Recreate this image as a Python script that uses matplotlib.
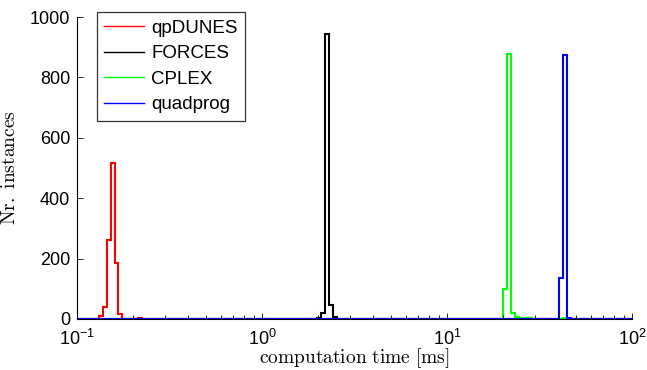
"""Histogram of QP solver computation times (MATLAB-style stairs on log x axis)."""
import matplotlib
matplotlib.use("Agg")
import matplotlib.pyplot as plt
import numpy as np
from matplotlib.ticker import LogLocator, NullFormatter

plt.rcParams["font.family"] = ["Liberation Sans", "DejaVu Sans"]
plt.rcParams["mathtext.fontset"] = "custom"
plt.rcParams["mathtext.rm"] = "Liberation Sans"
plt.rcParams["mathtext.it"] = "Liberation Sans:italic"

# log-spaced histogram bins over [0.1, 100] ms
N_BINS = 140
LOG_LO, LOG_HI = -0.99, 2.01

# counts per solver: first bin index and consecutive bin counts
qpdunes_start = 5
qpdunes_counts = [10, 40, 262, 515, 186, 15, 0, 0, 0, 0, 4]
forces_start = 60
forces_counts = [3, 20, 943, 47, 5]
cplex_start = 107
cplex_counts = [100, 877, 20, 8, 3, 3, 3, 0, 0, 0, 0, 0, 0, 0, 0, 2, 1]
quadprog_start = 121
quadprog_counts = [135, 873, 3]

series = [
    ("qpDUNES", "#ff0000", qpdunes_start, qpdunes_counts),
    ("FORCES", "#000000", forces_start, forces_counts),
    ("CPLEX", "#00ff00", cplex_start, cplex_counts),
    ("quadprog", "#0000ff", quadprog_start, quadprog_counts),
]

edges = np.logspace(LOG_LO, LOG_HI, N_BINS + 1)
edges = np.concatenate([[0.1], edges])

fig = plt.figure(figsize=(6.47, 3.70), dpi=100)
ax = fig.add_axes([0.119, 0.138, 0.858, 0.816])

for name, color, start, counts in series:
    full = np.zeros(len(edges) - 1)
    full[start + 1:start + 1 + len(counts)] = counts
    ax.stairs(full, edges, color=color, linewidth=1.5, label=name, baseline=None)

ax.set_xscale("log")
ax.set_xlim(0.1, 100)
ax.set_ylim(0, 1000)
ax.set_yticks([0, 200, 400, 600, 800, 1000])
ax.xaxis.set_major_locator(LogLocator(base=10, numticks=10))
ax.xaxis.set_minor_locator(LogLocator(base=10, subs=np.arange(2, 10), numticks=10))
ax.xaxis.set_minor_formatter(NullFormatter())

for s in ("top", "right"):
    ax.spines[s].set_visible(False)
for s in ("left", "bottom"):
    ax.spines[s].set_linewidth(0.8)
ax.tick_params(which="both", direction="in", labelsize=13, width=0.6)
ax.tick_params(which="major", length=4)
ax.tick_params(which="minor", length=3)
ax.tick_params(axis="x", pad=7)
ax.tick_params(axis="y", pad=5)

ax.set_xlabel(r"$\mathrm{computation\ time\ [ms]}$", fontsize=14,
              math_fontfamily="cm", labelpad=-2)
ax.set_ylabel(r"$\mathrm{Nr.\ instances}$", fontsize=14,
              math_fontfamily="cm", labelpad=8)

leg = ax.legend(loc="upper left", bbox_to_anchor=(0.036, 1.017), fontsize=13.5,
                frameon=True, fancybox=False, handlelength=2.1, borderaxespad=0,
                borderpad=0.4, labelspacing=0.45, handletextpad=0.4)
leg.get_frame().set_edgecolor("black")
leg.get_frame().set_linewidth(0.9)
for line in leg.get_lines():
    line.set_linewidth(1.0)

fig.savefig("out.png", dpi=100)
